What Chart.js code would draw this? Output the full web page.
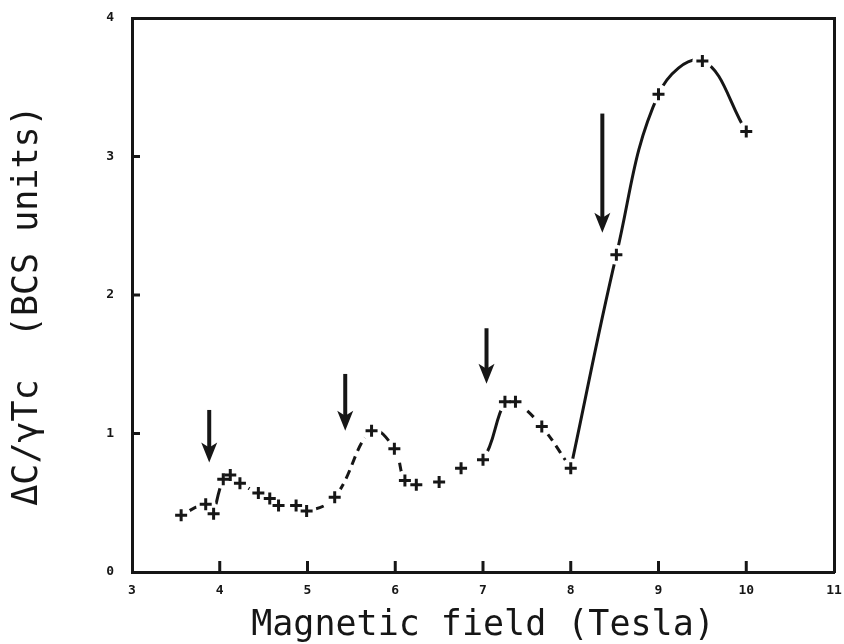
<!DOCTYPE html>
<html>
<head>
<meta charset="utf-8">
<script src="https://cdn.jsdelivr.net/npm/chart.js@4.4.1/dist/chart.umd.min.js"></script>
<style>
  body { margin: 0; background: #ffffff; }
  #wrap { width: 844px; height: 644px; }
</style>
</head>
<body>
<div id="wrap"><canvas id="canvas" width="844" height="644"></canvas></div>
<script>
// values
const fieldT = [3.56, 3.84, 3.93, 4.04, 4.12, 4.23, 4.44, 4.57, 4.67, 4.87, 4.99, 5.31, 5.73, 5.99,
    6.11, 6.24, 6.5, 6.75, 7.0, 7.25, 7.37, 7.67, 8.0, 8.52, 9.0, 9.5, 10.0]
const deltaC = [0.41, 0.49, 0.42, 0.67, 0.70, 0.64, 0.57, 0.53, 0.48, 0.48, 0.44, 0.54, 1.02, 0.89,
    0.66, 0.63, 0.65, 0.75, 0.81, 1.23, 1.23, 1.05, 0.75, 2.29, 3.45, 3.69, 3.18]

// how each piece of curve between two points is drawn
const segStyle = ['solid', 'none', 'solid', 'dash', 'dash', 'dash', 'dash', 'dash', 'dash', 'dash',
    'dash', 'dash', 'solid', 'dash', 'none', 'none', 'none', 'none', 'solid', 'solid',
    'dash', 'dash', 'solid', 'solid', 'solid', 'solid']

// the hand-drawn curve has sharp corners at these points
const cornerIdx = [0, 2, 22, 26]

// arrows pointing at the transitions
const arrowX = [3.88, 5.43, 7.04, 8.36]
const arrowTop = [1.17, 1.43, 1.76, 3.31]
const arrowTip = [0.79, 1.02, 1.36, 2.45]

const xTicks = [3, 4, 5, 6, 7, 8, 9, 10, 11]
const yTicks = [0, 1, 2, 3, 4]

const ink = '#161616'
const mono = '"DejaVu Sans Mono", "Liberation Mono", monospace'

var points = []
for (let i in fieldT) {
    points.push({ x: fieldT[i], y: deltaC[i] })
}

var datasets = [
    {
        label: 'points',
        data: points,
        pointStyle: 'cross',
        pointRadius: 6,
        borderWidth: 3,
        borderColor: ink,
        order: 0
    },
    {
        label: 'halo',
        data: points,
        pointStyle: 'circle',
        pointRadius: 10,
        borderWidth: 0,
        backgroundColor: '#ffffff',
        borderColor: '#ffffff',
        order: 1
    }
]

for (let k = 0; k < cornerIdx.length - 1; k++) {
    let start = cornerIdx[k]
    let end = cornerIdx[k + 1]
    datasets.push({
        label: 'curve' + k,
        data: points.slice(start, end + 1),
        showLine: true,
        pointRadius: 0,
        borderWidth: 3,
        borderColor: ink,
        tension: 0.4,
        segment: {
            borderColor: c => segStyle[start + c.p0DataIndex] === 'none' ? 'rgba(0,0,0,0)' : ink,
            borderDash: c => segStyle[start + c.p0DataIndex] === 'dash' ? [9, 6] : []
        },
        order: 2
    })
}

const frameTicks = {
    id: 'frameTicks',
    afterDraw: (chart) => {
        const { ctx, chartArea } = chart
        const x = chart.scales.x
        const y = chart.scales.y
        ctx.save()
        ctx.strokeStyle = ink
        ctx.lineWidth = 3
        x.ticks.forEach(t => {
            if (t.value <= 3 || t.value >= 11) return
            var px = x.getPixelForValue(t.value)
            ctx.beginPath()
            ctx.moveTo(px, chartArea.bottom)
            ctx.lineTo(px, chartArea.bottom - 11)
            ctx.stroke()
        })
        y.ticks.forEach(t => {
            if (t.value <= 0 || t.value >= 4) return
            var py = y.getPixelForValue(t.value)
            ctx.beginPath()
            ctx.moveTo(chartArea.left, py)
            ctx.lineTo(chartArea.left + 8, py)
            ctx.stroke()
        })
        ctx.restore()
    }
}

const arrows = {
    id: 'arrows',
    afterDatasetsDraw: (chart) => {
        const { ctx } = chart
        const x = chart.scales.x
        const y = chart.scales.y
        ctx.save()
        ctx.strokeStyle = ink
        ctx.fillStyle = ink
        ctx.lineWidth = 4
        for (let i in arrowX) {
            var px = x.getPixelForValue(arrowX[i])
            var top = y.getPixelForValue(arrowTop[i])
            var tip = y.getPixelForValue(arrowTip[i])
            ctx.beginPath()
            ctx.moveTo(px, top)
            ctx.lineTo(px, tip - 12)
            ctx.stroke()
            ctx.beginPath()
            ctx.moveTo(px - 8, tip - 20)
            ctx.lineTo(px, tip - 15)
            ctx.lineTo(px + 8, tip - 20)
            ctx.lineTo(px, tip)
            ctx.closePath()
            ctx.fill()
        }
        ctx.restore()
    }
}

const whiteBg = {
    id: 'whiteBg',
    beforeDraw: (chart) => {
        const { ctx } = chart
        ctx.save()
        ctx.fillStyle = '#ffffff'
        ctx.fillRect(0, 0, chart.width, chart.height)
        ctx.restore()
    }
}

var chart = new Chart(document.getElementById('canvas'), {
    type: 'scatter',
    data: { datasets: datasets },
    options: {
        responsive: false,
        animation: false,
        layout: { padding: { top: 18, right: 6, left: 0, bottom: 0 } },
        plugins: {
            legend: { display: false },
            tooltip: { enabled: false }
        },
        scales: {
            x: {
                type: 'linear',
                position: 'bottom',
                min: 3,
                max: 11,
                afterBuildTicks: s => { s.ticks = xTicks.map(v => ({ value: v })) },
                afterFit: s => { s.height = 72; s.paddingLeft = 0; s.paddingRight = 0 },
                grid: { display: false, drawTicks: false },
                border: { display: true, color: ink, width: 3 },
                ticks: {
                    color: ink,
                    padding: 11,
                    font: { family: mono, size: 13, weight: 'bold' }
                },
                title: {
                    display: true,
                    text: 'Magnetic field (Tesla)',
                    color: ink,
                    padding: { top: 0, bottom: -3 },
                    font: { family: mono, size: 35 }
                }
            },
            y: {
                type: 'linear',
                position: 'left',
                min: 0,
                max: 4,
                afterBuildTicks: s => { s.ticks = yTicks.map(v => ({ value: v })) },
                afterFit: s => { s.width = 132; s.paddingTop = 0; s.paddingBottom = 0 },
                grid: { display: false, drawTicks: false },
                border: { display: true, color: ink, width: 3 },
                ticks: {
                    color: ink,
                    padding: 18,
                    font: { family: mono, size: 13, weight: 'bold' }
                },
                title: {
                    display: true,
                    text: 'ΔC/γTc  (BCS units) ',
                    color: ink,
                    padding: { top: 7, bottom: 0 },
                    font: { family: mono, size: 35 }
                }
            },
            x2: {
                type: 'linear',
                position: 'top',
                min: 3,
                max: 11,
                afterFit: s => { s.height = 0; s.paddingLeft = 0; s.paddingRight = 0 },
                grid: { display: false, drawTicks: false },
                border: { display: true, color: ink, width: 3 },
                ticks: { display: false }
            },
            y2: {
                type: 'linear',
                position: 'right',
                min: 0,
                max: 4,
                afterFit: s => { s.width = 0; s.paddingTop = 0; s.paddingBottom = 0 },
                grid: { display: false, drawTicks: false },
                border: { display: true, color: ink, width: 3 },
                ticks: { display: false }
            }
        }
    },
    plugins: [whiteBg, frameTicks, arrows]
})
</script>
</body>
</html>
